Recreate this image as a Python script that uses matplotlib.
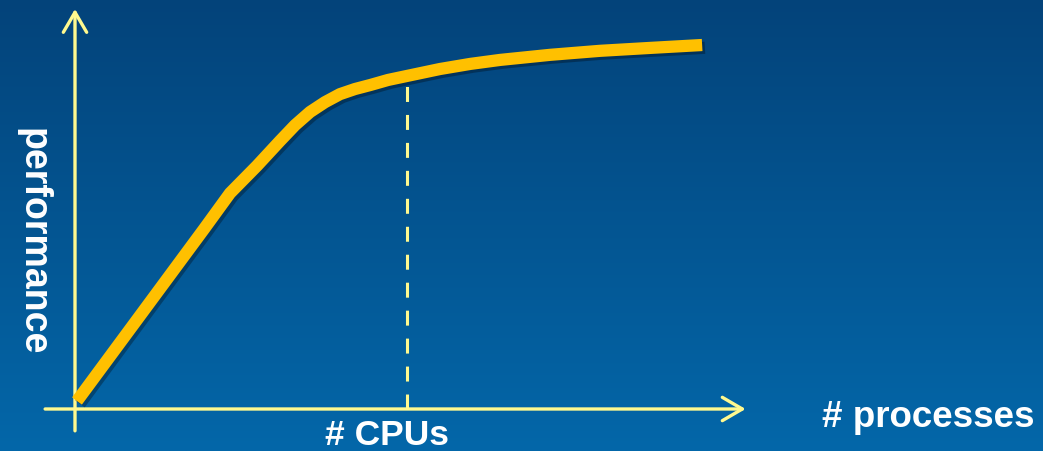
import numpy as np
import matplotlib
matplotlib.use("Agg")
import matplotlib.pyplot as plt
import matplotlib.patheffects as pe

# ---- data (conceptual units: processes on x, performance on y) ----
processes = [0.06, 3.89, 4.67, 5.48, 6.17, 6.63, 7.08, 7.53, 7.98, 8.43, 8.89,
             9.43, 10.0, 10.99, 11.90, 12.80, 14.31, 15.81, 17.32, 18.89]
performance = [2.2, 49.5, 59.3, 66.8, 73.6, 78.0, 81.6, 84.3, 86.5, 87.9, 89.0,
               90.4, 91.5, 93.4, 94.8, 95.9, 97.3, 98.4, 99.2, 100.0]
n_cpus = 10.0
x_label = "# processes"
y_label = "performance"
cpu_label = "# CPUs"

# ---- figure ----
W, H, DPI = 1043, 452, 100
fig = plt.figure(figsize=(W / DPI, H / DPI), dpi=DPI)
ax = fig.add_axes([0, 0, 1, 1])
xlim = (-2.259, 29.157)
ylim = (-11.54, 112.64)
ax.set_xlim(*xlim)
ax.set_ylim(*ylim)
ax.axis("off")

# background gradient
top = np.array([4, 67, 122]) / 255.0
bot = np.array([3, 103, 169]) / 255.0
t = np.linspace(0, 1, 256)[:, None]
grad = top[None, :] * (1 - t) + bot[None, :] * t
grad = np.repeat(grad[:, None, :], 2, axis=1)
ax.imshow(grad, extent=[xlim[0], xlim[1], ylim[0], ylim[1]], aspect="auto",
          origin="upper", zorder=0, interpolation="bilinear")

axis_col = "#FFF98F"
arrow_kw = dict(arrowstyle="->,head_length=0.72,head_width=0.42", color=axis_col,
                lw=2.4, mutation_scale=20, shrinkA=0, shrinkB=0)
# x axis
ax.annotate("", xy=(20.2, 0), xytext=(-0.9, 0), arrowprops=arrow_kw, zorder=2)
# y axis
ax.annotate("", xy=(0, 109.9), xytext=(0, -6.0), arrowprops=arrow_kw, zorder=2)

# dashed CPU line
perf_at_cpu = np.interp(n_cpus, processes, performance)
ax.plot([n_cpus, n_cpus], [0, perf_at_cpu], color=axis_col, lw=2.2,
        dashes=(4.9, 4.25), zorder=3)

# performance curve
ax.plot(processes, performance, color="#FFC000", lw=8.8, solid_capstyle="butt",
        solid_joinstyle="round", zorder=4,
        path_effects=[pe.SimpleLineShadow(offset=(2, -2), shadow_color="black", alpha=0.3),
                      pe.Normal()])

# labels (figure pixel positions)
font = dict(family=["Liberation Sans", "DejaVu Sans"], weight="bold", color="white")
fig.text(33 / W, 1 - 242 / H, y_label, rotation=-90, ha="center", va="center",
         fontsize=27, **font)
fig.text(928 / W, 1 - 427 / H, x_label, ha="center", va="baseline", fontsize=26.5, **font)
fig.text(387 / W, 1 - 445 / H, cpu_label, ha="center", va="baseline", fontsize=25.5, **font)

fig.savefig("out.png", dpi=DPI)
